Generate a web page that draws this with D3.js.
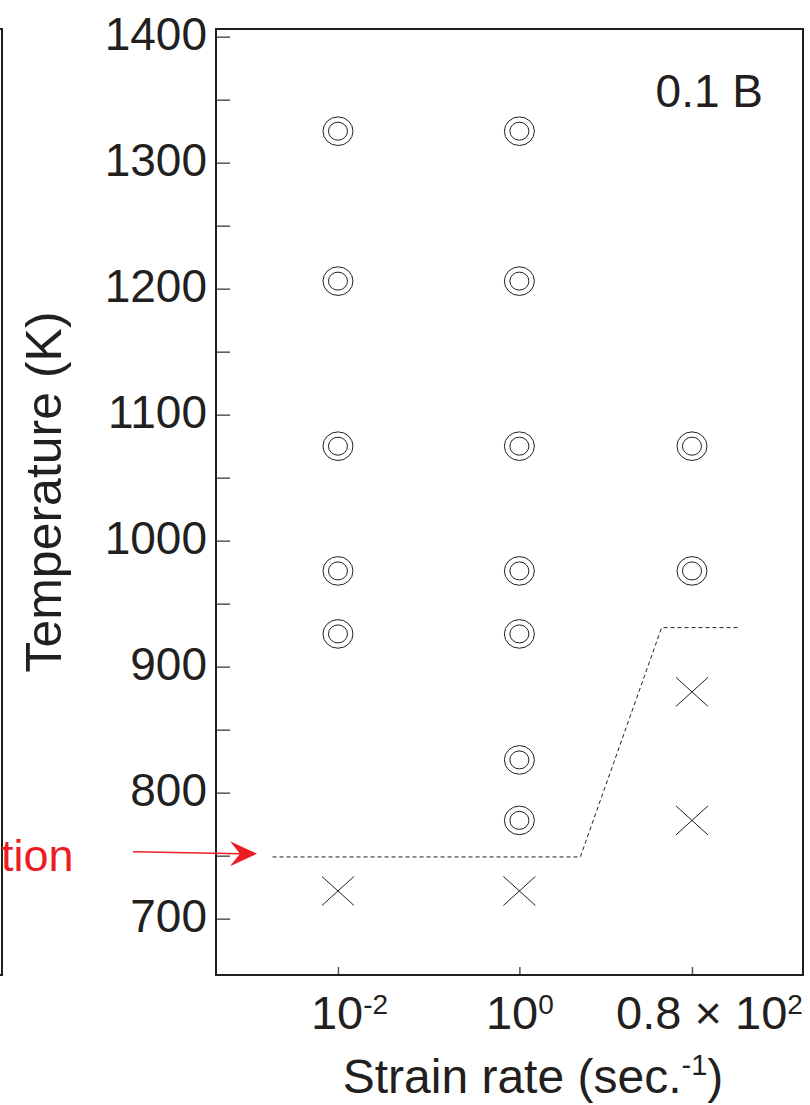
<!DOCTYPE html>
<html><head><meta charset="utf-8">
<script src="https://cdn.jsdelivr.net/npm/d3@7"></script>
<style>body{margin:0;background:#fff} svg{display:block}</style>
</head><body>
<svg id="c" width="810" height="1105"></svg>
<script>
// ---- data ----
const strainRates = [0.01, 1, 80];
const tickBase = ["10", "10", "0.8 × 10"];
const tickExp = ["-2", "0", "2"];
const okRate = [0.01, 0.01, 0.01, 0.01, 0.01, 1, 1, 1, 1, 1, 1, 1, 80, 80];
const okTemp = [1325, 1206, 1075, 976, 926, 1325, 1206, 1075, 976, 926, 826, 778, 1075, 976];
const failRate = [0.01, 1, 80, 80];
const failTemp = [722, 722, 880, 778];
const boundaryRate = [0.0019, 4.7, 37, 260];
const boundaryTemp = [749, 749, 931, 931];
const yMajor = [700, 800, 900, 1000, 1100, 1200, 1300, 1400];
const yMinor = [750, 850, 950, 1050, 1150, 1250, 1350];
const panelLabel = "0.1 B";
const yTitle = "Temperature (K)";
const xTitleMain = "Strain rate (sec.";
const xTitleExp = "-1";
const arrowLabel = "tion";
const arrowTemp = 750;

// ---- layout ----
const W = 810, H = 1105;
const L = 216, R = 803, T = 29, B = 975;
const ink = "#231f20";
const font = "'Liberation Sans', Arial, Helvetica, sans-serif";
const svg = d3.select("#c");

const x = d3.scaleLog().domain([0.000452, 1340]).range([L, R]);
const y = d3.scaleLinear().domain([655.3, 1406.1]).range([B, T]);

// neighbouring panel edge
svg.append("rect").attr("x", -50).attr("y", T).attr("width", 52).attr("height", B - T)
  .attr("fill", "none").attr("stroke", ink).attr("stroke-width", 2);

// y axis
const yAxis = d3.axisLeft(y).tickValues(yMajor.concat(yMinor)).tickSize(-14).tickPadding(9)
  .tickFormat(d => yMajor.includes(d) ? d : "");
const gy = svg.append("g").attr("transform", `translate(${L},0)`).call(yAxis);
gy.select(".domain").remove();
gy.selectAll(".tick line").attr("stroke", "#555").attr("stroke-width", 1.5);
gy.selectAll(".tick text").attr("font-family", font).attr("font-size", 46)
  .attr("fill", ink).attr("dy", "0.27em");

// x axis
const xAxis = d3.axisBottom(x).tickValues(strainRates).tickSize(-8).tickFormat("");
const gx = svg.append("g").attr("transform", `translate(0,${B})`).call(xAxis);
gx.select(".domain").remove();
gx.selectAll(".tick line").attr("stroke", "#555").attr("stroke-width", 1.5);
const labelShift = [11, 0, 17];
gx.selectAll(".tick").each(function (d, i) {
  const t = d3.select(this).append("text").attr("y", 54).attr("x", labelShift[i])
    .attr("text-anchor", "middle").attr("font-family", font).attr("font-size", 47).attr("fill", ink);
  t.append("tspan").text(tickBase[i]);
  t.append("tspan").attr("font-size", 28).attr("dy", -15).text(tickExp[i]);
});

// frame
svg.append("rect").attr("x", L).attr("y", T).attr("width", R - L).attr("height", B - T)
  .attr("fill", "none").attr("stroke", ink).attr("stroke-width", 2);

// boundary line
svg.append("path")
  .attr("d", d3.line().x((d, i) => x(boundaryRate[i])).y((d, i) => y(boundaryTemp[i]))(boundaryRate))
  .attr("fill", "none").attr("stroke", ink).attr("stroke-width", 1).attr("stroke-dasharray", "4,3");

// double-circle markers
const ok = svg.append("g").selectAll("g").data(okRate).join("g")
  .attr("transform", (d, i) => `translate(${x(d)},${y(okTemp[i])})`);
ok.append("ellipse").attr("rx", 15).attr("ry", 14.3).attr("fill", "none").attr("stroke", ink).attr("stroke-width", 1);
ok.append("ellipse").attr("rx", 9.5).attr("ry", 9).attr("fill", "none").attr("stroke", ink).attr("stroke-width", 1);

// cross markers
const fail = svg.append("g").selectAll("g").data(failRate).join("g")
  .attr("transform", (d, i) => `translate(${x(d)},${y(failTemp[i])})`);
fail.append("path").attr("d", "M-16,-14.5L16,14.5M-16,14.5L16,-14.5")
  .attr("stroke", ink).attr("stroke-width", 1).attr("fill", "none");

// panel label
svg.append("text").attr("x", R - 40).attr("y", 107).attr("text-anchor", "end")
  .attr("font-family", font).attr("font-size", 46).attr("fill", ink).text(panelLabel);

// y title
svg.append("text").attr("transform", `translate(61,492) rotate(-90)`).attr("text-anchor", "middle")
  .attr("font-family", font).attr("font-size", 50).attr("fill", ink).text(yTitle);

// x title
const xt = svg.append("text").attr("x", (343 + 723) / 2).attr("y", 1093).attr("text-anchor", "middle")
  .attr("font-family", font).attr("font-size", 48).attr("fill", ink);
xt.append("tspan").text(xTitleMain);
xt.append("tspan").attr("font-size", 29).attr("dy", -18).text(xTitleExp);
xt.append("tspan").attr("dy", 18).text(")");

// red annotation arrow
const red = "#ed1c24";
const ay = y(arrowTemp);
svg.append("line").attr("x1", 133).attr("y1", ay - 4).attr("x2", 240).attr("y2", ay - 2)
  .attr("stroke", red).attr("stroke-width", 1.5);
svg.append("path").attr("d", `M257,${ay - 2} L230,${ay - 14.5} L240,${ay - 2} L230,${ay + 10.5} Z`)
  .attr("fill", red);
svg.append("text").attr("x", 1).attr("y", ay + 15).attr("text-anchor", "start")
  .attr("font-family", font).attr("font-size", 45).attr("fill", red).text(arrowLabel);
</script>
</body></html>
